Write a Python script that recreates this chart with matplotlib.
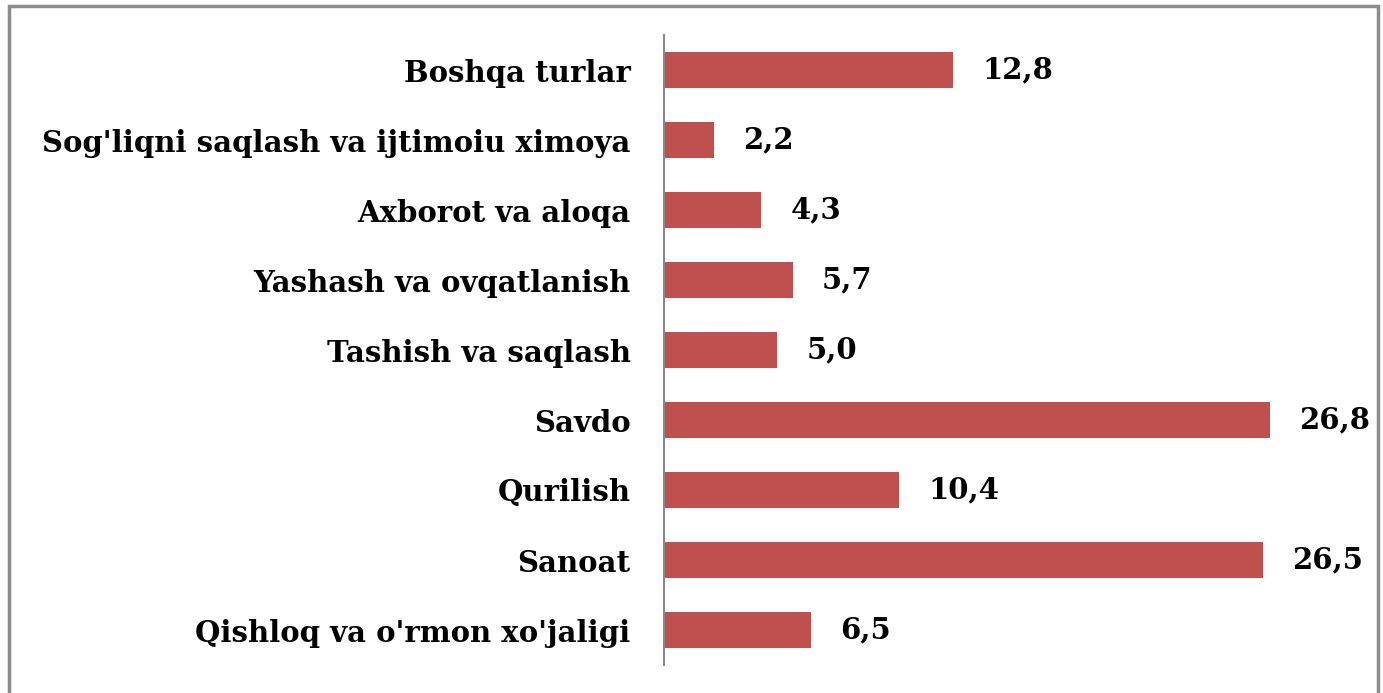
import matplotlib.pyplot as plt
from matplotlib.patches import Rectangle

categories = ["Qishloq va o'rmon xo'jaligi", "Sanoat", "Qurilish", "Savdo",
              "Tashish va saqlash", "Yashash va ovqatlanish", "Axborot va aloqa",
              "Sog'liqni saqlash va ijtimoiu ximoya", "Boshqa turlar"]
values = [6.5, 26.5, 10.4, 26.8, 5.0, 5.7, 4.3, 2.2, 12.8]
labels = ["6,5", "26,5", "10,4", "26,8", "5,0", "5,7", "4,3", "2,2", "12,8"]

plt.rcParams['font.family'] = ['DejaVu Serif']
plt.rcParams['font.weight'] = 'bold'

fig = plt.figure(figsize=(13.83, 6.93), dpi=100)
ax = fig.add_axes([664/1383, 28/693, 678/1383, 630/693])

y = range(len(categories))
ax.barh(y, values, height=0.51, color='#C0504D')
ax.set_ylim(-0.5, len(categories) - 0.5)
ax.set_xlim(0, 30)

ax.set_yticks(list(y))
ax.set_yticklabels(categories, fontsize=21, fontweight='bold')
ax.tick_params(axis='y', length=0, pad=24)
ax.set_xticks([])

for i, (v, lab) in enumerate(zip(values, labels)):
    ax.annotate(lab, (v, i), xytext=(21, 0), textcoords='offset points',
                va='center', ha='left', fontsize=21, fontweight='bold')

for s in ['top', 'right', 'bottom']:
    ax.spines[s].set_visible(False)
ax.spines['left'].set_color('#888888')
ax.spines['left'].set_linewidth(1.5)

# outer frame (bottom edge falls outside the image)
fig.patches.append(Rectangle((8.5/1383, -0.05), 1369.5/1383, 1.05 - 6/693,
                             transform=fig.transFigure, fill=False,
                             edgecolor='#8c8c8c', linewidth=2.5))

fig.savefig('out.png', dpi=100)
